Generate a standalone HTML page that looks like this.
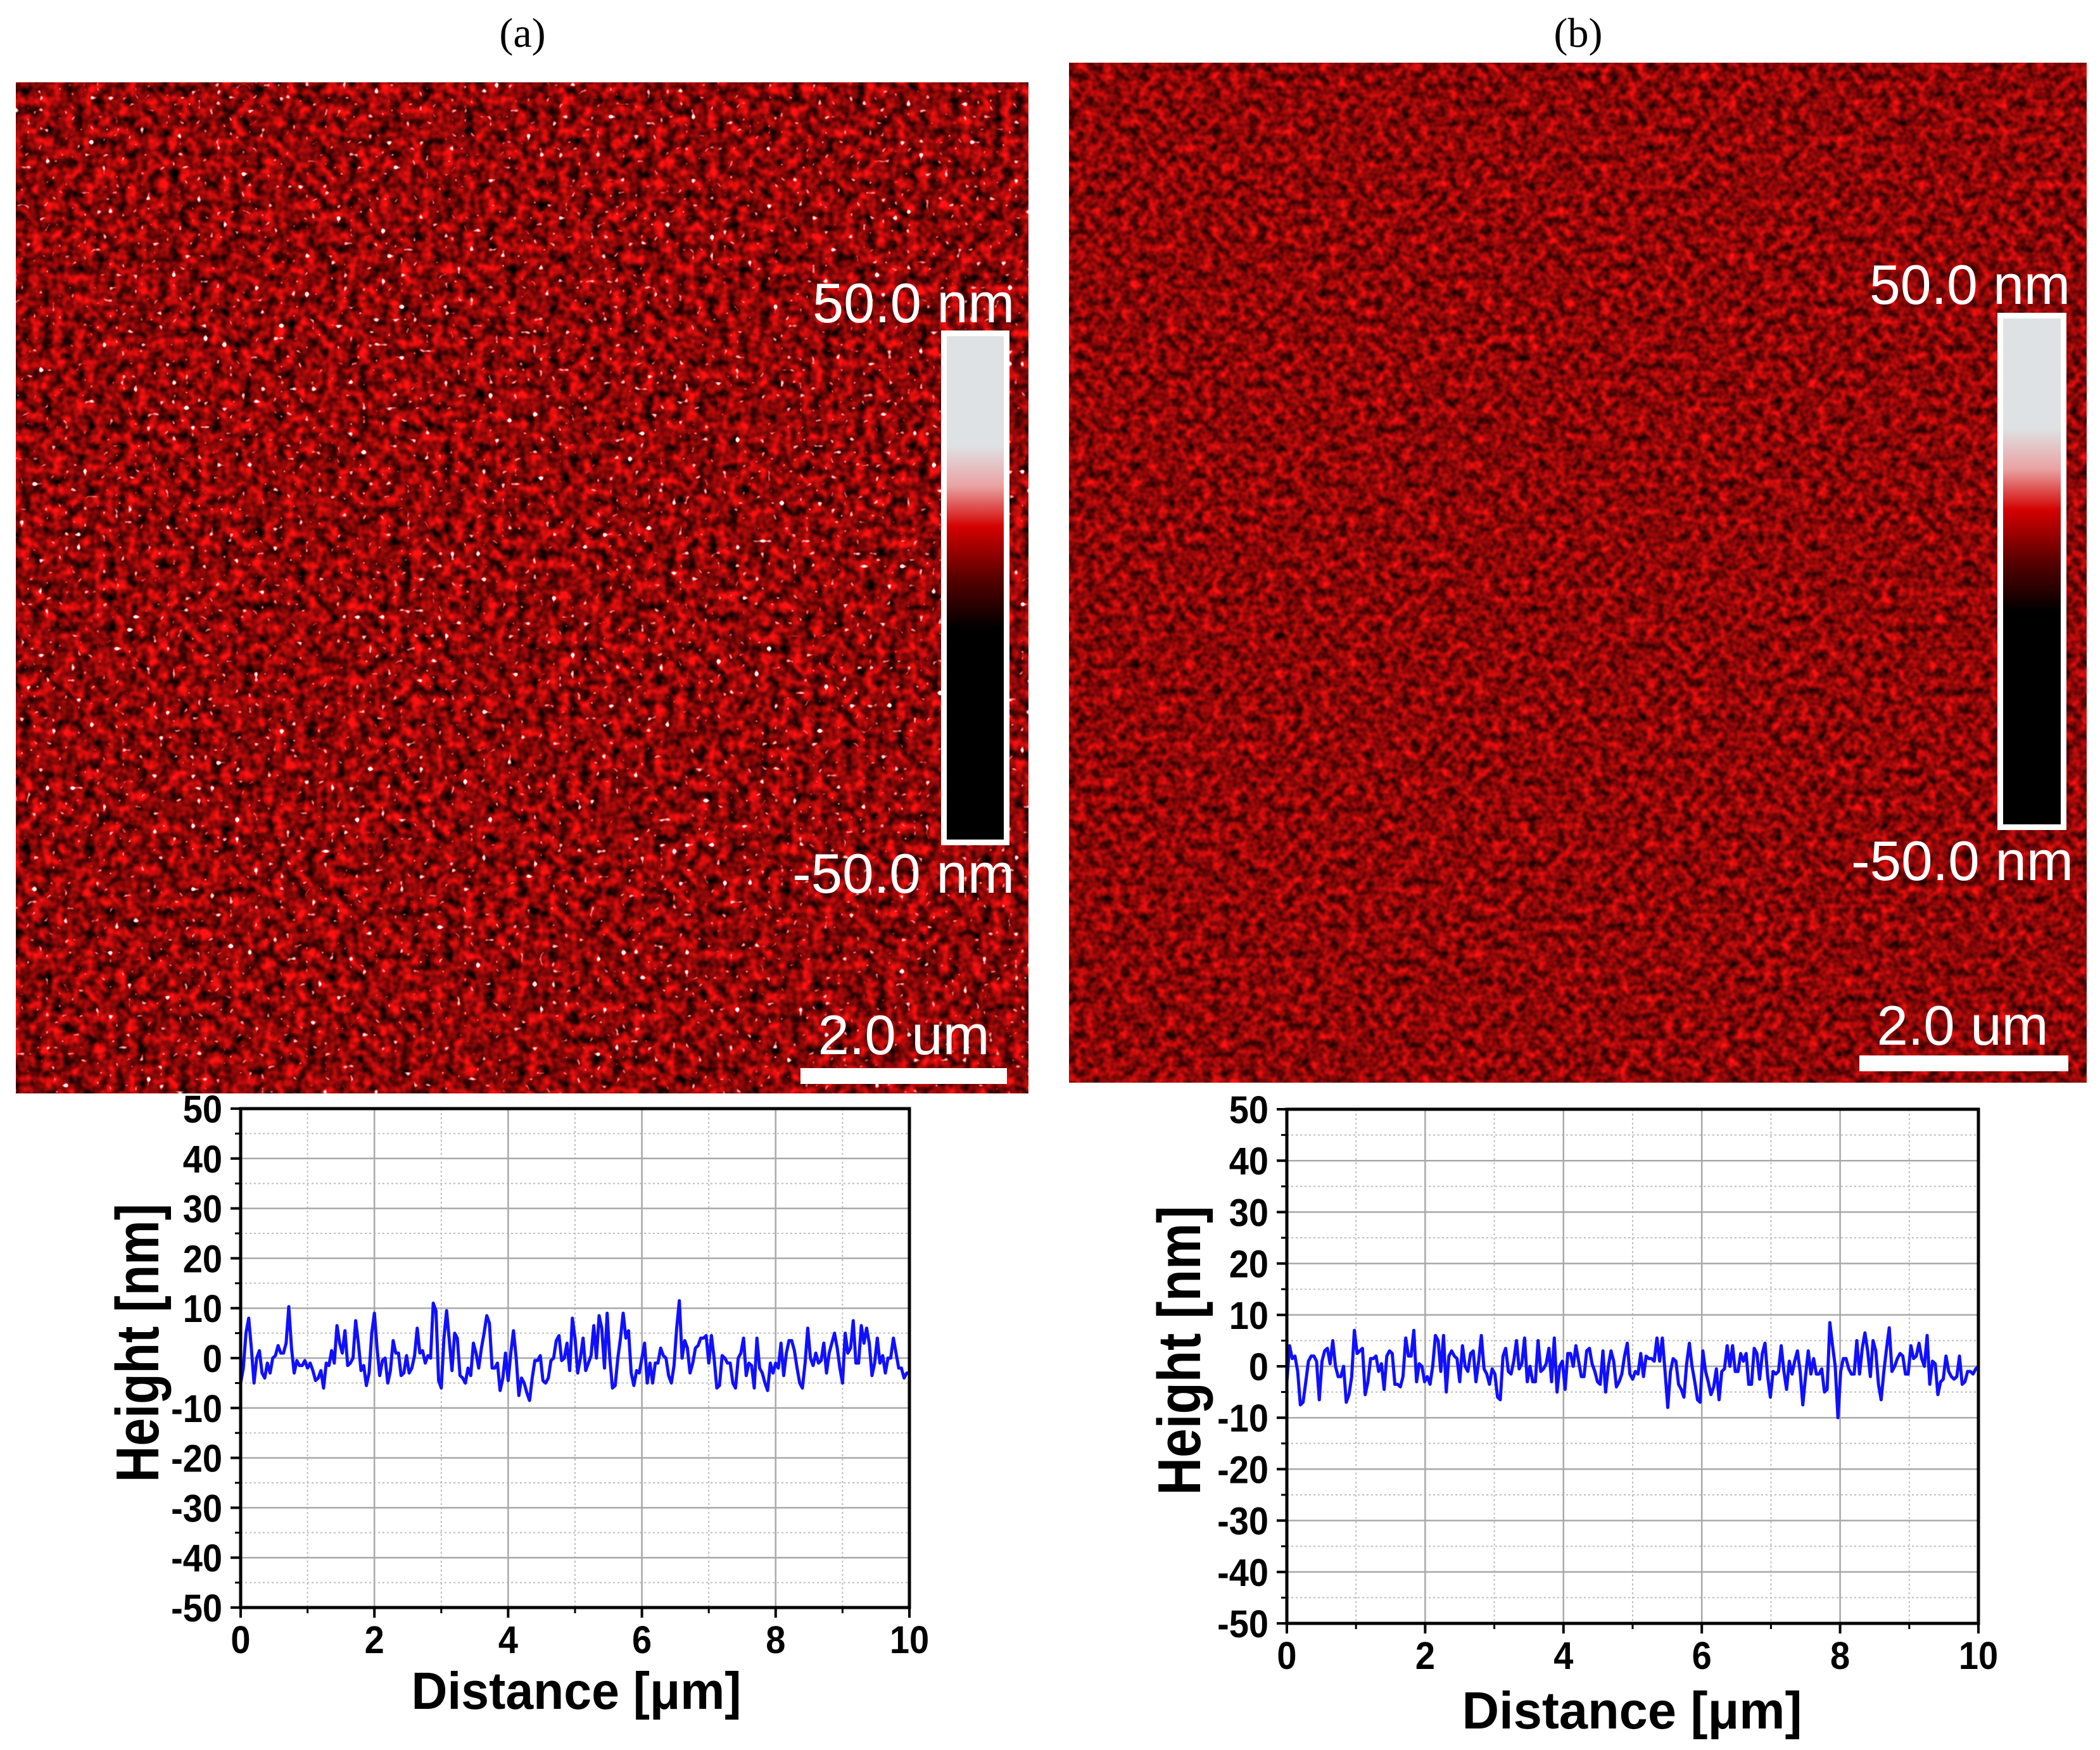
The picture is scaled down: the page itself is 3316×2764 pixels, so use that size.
<!DOCTYPE html>
<html><head><meta charset="utf-8"><style>
html,body{margin:0;padding:0;background:#fff;}
svg{display:block;}
text{font-family:"Liberation Sans",Arial,sans-serif;}
</style></head><body>
<svg id="fig" width="3316" height="2764" viewBox="0 0 3316 2764" xmlns="http://www.w3.org/2000/svg">
<defs>
<filter id="texA" x="0" y="0" width="100%" height="100%" filterUnits="objectBoundingBox" color-interpolation-filters="sRGB">
  <feTurbulence type="fractalNoise" baseFrequency="0.06" numOctaves="2" seed="3" result="n"/>
  <feColorMatrix in="n" type="matrix" values="1.6 0 0 0 -0.26  0.12 0 0 0 -0.03  0.12 0 0 0 -0.03  0 0 0 0 1" result="red"/>
  <feTurbulence type="fractalNoise" baseFrequency="0.1" numOctaves="1" seed="11" result="n2"/>
  <feColorMatrix in="n2" type="matrix" values="0 1 0 0 0  0 1 0 0 0  0 1 0 0 0  0 0 0 0 1" result="g2"/>
  <feComponentTransfer in="g2" result="spots">
    <feFuncR type="linear" slope="10" intercept="-6.6"/>
    <feFuncG type="linear" slope="10" intercept="-6.9"/>
    <feFuncB type="linear" slope="10" intercept="-6.9"/>
  </feComponentTransfer>
  <feBlend in="red" in2="spots" mode="screen"/>
</filter>
<filter id="texB" x="0" y="0" width="100%" height="100%" filterUnits="objectBoundingBox" color-interpolation-filters="sRGB">
  <feTurbulence type="fractalNoise" baseFrequency="0.07" numOctaves="2" seed="7" result="n"/>
  <feColorMatrix in="n" type="matrix" values="1.3 0 0 0 -0.1  0.1 0 0 0 -0.02  0.1 0 0 0 -0.02  0 0 0 0 1"/>
</filter>
<linearGradient id="cbar" x1="0" y1="0" x2="0" y2="1">
  <stop offset="0" stop-color="#dfe2e5"/>
  <stop offset="0.22" stop-color="#dfe2e5"/>
  <stop offset="0.30" stop-color="#eaa2a2"/>
  <stop offset="0.38" stop-color="#d40000"/>
  <stop offset="0.48" stop-color="#5a0000"/>
  <stop offset="0.58" stop-color="#000000"/>
  <stop offset="1" stop-color="#000000"/>
</linearGradient>
</defs>

<text x="825" y="74" font-size="66" text-anchor="middle" style="font-family:'Liberation Serif',serif">(a)</text>
<text x="2492" y="74" font-size="66" text-anchor="middle" style="font-family:'Liberation Serif',serif">(b)</text>

<g>
  <rect x="25" y="130" width="1599" height="1597" fill="#8a0a0a"/>
  <rect x="25" y="130" width="1599" height="1597" filter="url(#texA)"/>
  <rect x="1490.5" y="526.5" width="99" height="804" fill="url(#cbar)" stroke="#fff" stroke-width="9"/>
  <text x="1602" y="509" font-size="88" fill="#fff" text-anchor="end" textLength="319" lengthAdjust="spacingAndGlyphs">50.0 nm</text>
  <text x="1602" y="1410" font-size="88" fill="#fff" text-anchor="end" textLength="351" lengthAdjust="spacingAndGlyphs">-50.0 nm</text>
  <text x="1427" y="1665" font-size="88" fill="#fff" text-anchor="middle" textLength="271" lengthAdjust="spacingAndGlyphs">2.0 um</text>
  <rect x="1264" y="1687" width="326" height="25" fill="#fff"/>
</g>

<g>
  <rect x="1688" y="99" width="1607" height="1611" fill="#8c0b0b"/>
  <rect x="1688" y="99" width="1607" height="1611" filter="url(#texB)"/>
  <rect x="3158.5" y="498.5" width="100" height="808" fill="url(#cbar)" stroke="#fff" stroke-width="9"/>
  <text x="3269" y="480" font-size="88" fill="#fff" text-anchor="end" textLength="317" lengthAdjust="spacingAndGlyphs">50.0 nm</text>
  <text x="3274" y="1390" font-size="88" fill="#fff" text-anchor="end" textLength="351" lengthAdjust="spacingAndGlyphs">-50.0 nm</text>
  <text x="3099" y="1650" font-size="88" fill="#fff" text-anchor="middle" textLength="271" lengthAdjust="spacingAndGlyphs">2.0 um</text>
  <rect x="2936" y="1667" width="330" height="25" fill="#fff"/>
</g>

<g id="plotA"></g>
<g id="plotB"></g>
</svg>
<script>
const xTickLabels = ["0","2","4","6","8","10"];
const yTickLabels = ["50","40","30","20","10","0","-10","-20","-30","-40","-50"];
const xTicks = [0,2,4,6,8,10];
const yTicks = [50,40,30,20,10,0,-10,-20,-30,-40,-50];
const profileRangeUm = 10;
const heightsA = [-5,-2,5,8,2,-5,0,1.5,-3,-4,-1,-3,0,0.5,2.5,1,1,3,10.3,2,-3,-0.5,-1.5,-1.5,-0.5,-2,-1,-2.5,-4.5,-4,-2.5,-6,-1,-1.5,1.5,-1,6.5,3,1,5.5,-1.5,-1,0,7.5,3,-2.5,-1.5,-5.5,-3,5,9,2,-3.5,-0.5,0,-5,-2.5,3.5,1,1,-3.5,-3,0.5,-3,-2,0.5,6,1,1.5,-1,0.5,0,11,9.5,-4.5,-6,4,9.5,3.5,-2.5,5,4,-3.5,-4,-5,-2,-3.5,3,1,-2,2,5,8.5,7,-2,-2,-1,-6.5,-4,1,-4.5,1,5.5,0,-7.5,-4,-5,-7,-8.5,-4,-0.5,-0.5,0.5,-4.5,-5,-4,-0.5,0,3.5,4.5,-0.5,0,3,-2.5,8,4,-3,0,4,-2.5,-1,0.5,6.5,0,8.5,6,-2,9,0,-6,-5.5,0,4,9,4,5.5,-3,-5.5,-2.5,-3,0,3,-5,-1,-5,-1,-1,2,0.5,0,-3.5,-5,-1.5,6,11.5,0,3.5,2,-3,-1,2,2.5,4,4,4.5,-1,4.5,0,-6,-5.5,0.5,0,-1,-1,-5,-6,0,1,4,-3.5,-1,-1.5,-6,4,-2,-3,-5,-6.5,-1,-3,-1,-2,3,-3.5,1,3.5,3.5,1.5,-2,-5,-6,-1,6,0,-1.5,1,-1,-0.5,3,-3,1,3,5,2,-2,-5,5,1,2,7.5,-1,-1,6.5,3,6,3,-3.5,-1,4,-1,0.5,-3,0,0,4,1,-2,-2,-4,-3,-3];
const heightsB = [-3,4,1.5,2,-1,-7.5,-7,-3,1,2,2,1,-6.5,1,3,3.5,0.5,5,0,-2,-2,0,-7,-5.5,-2,7,2.5,3,3.5,-5.5,-3,1.5,1.5,2,-1,0.5,-4.5,2,3,2.5,-3.5,-3.5,-4,-2,5.5,2,2,7,-3,0.5,0,-3,-2,-3.5,0,6,5,-1,6,-5,2,3,2,1.5,-3,4,0,-1,2.5,3,-3,1,6,-0.5,-1.5,-3.5,-0.5,-1.5,-6,-6.5,2,3.5,-1,-1.5,1,5,-0.5,0.5,5.5,-3,0,-3,-3,5,-1,-0.5,0.5,3.5,-3,5.5,-5,0,1,-4.5,2.5,2.5,0,4,1,-2,-2,3,3.5,0.5,-1,-3,-3.5,3,-5,0,3,1,-4,-3,-1.5,2,4.5,-1.5,-2.5,-1,-1.5,2.5,-2,2,1.5,1.5,1,5.5,1,5.5,-1,-8,-1,1.5,1,-3.5,-4.5,-6,0.5,4.5,0,-3,-6.5,-7,3,-1,-3,-5.5,-4,-0.5,-6.5,-1,-0.5,4,0,4,-1,-1,2.5,1,2.5,-3.5,-3.5,3.5,2.5,-2.5,2.5,4.5,-2,-6,-1,-1.5,-1,4,-1,-4.5,1,-1.5,1,3,-1,-7.5,-2,3,-1.5,1.5,-1.5,-1.5,-0.5,-5,-4.5,8.5,4,0,-10,-1,1.5,1.5,-0.5,-1.5,-1.5,5,-1.5,3.5,6.5,3,-2,5,3,-3.5,-6.5,-1,3.5,7.5,-1,0,1.5,2.5,2,-1.5,-1.5,4,1.5,2,4.5,1.5,0,6,-3.5,1,0.5,-5.5,-3,-2.5,2,-1,-2,-2.5,-2,2,-3.5,-3,-1,-1,-1.5,-0.5,0];

const NS = "http://www.w3.org/2000/svg";
function mk(parent, tag, attrs, txt){
  const e = document.createElementNS(NS, tag);
  for (const k in attrs) e.setAttribute(k, attrs[k]);
  if (txt !== undefined) e.textContent = txt;
  parent.appendChild(e);
  return e;
}
function drawPlot(g, cfg, heights){
  const sx = v => cfg.L + (v/profileRangeUm)*(cfg.R-cfg.L);
  const sy = v => cfg.B - ((v+50)/100)*(cfg.B-cfg.T);
  for (let v=1; v<10; v+=2){
    const l = mk(g,'line',{x1:sx(v),x2:sx(v),y1:cfg.T,y2:cfg.B,stroke:'#bdbdbd','stroke-width':2,'stroke-dasharray':'3 4'});
    
    
  }
  for (let v=-45; v<50; v+=10){
    const l = mk(g,'line',{x1:cfg.L,x2:cfg.R,y1:sy(v),y2:sy(v),stroke:'#bdbdbd','stroke-width':2,'stroke-dasharray':'3 4'});
    
    
  }
  xTicks.forEach((v,i)=>{
    const l = mk(g,'line',{x1:sx(v),x2:sx(v),y1:cfg.T,y2:cfg.B,stroke:'#a8a8a8','stroke-width':2.5});
    
    
    mk(g,'line',{x1:sx(v),x2:sx(v),y1:cfg.B,y2:cfg.B+16,stroke:'#000','stroke-width':4});
    const t = mk(g,'text',{x:0,y:0,'font-size':56,'font-weight':'bold','text-anchor':'middle',transform:`translate(${sx(v)},${cfg.xLabelY}) scale(1,1.1)`}, xTickLabels[i]);
    
    
  });
  for (let v=1; v<10; v+=2) mk(g,'line',{x1:sx(v),x2:sx(v),y1:cfg.B,y2:cfg.B+9,stroke:'#000','stroke-width':3});
  yTicks.forEach((v,i)=>{
    const l = mk(g,'line',{x1:cfg.L,x2:cfg.R,y1:sy(v),y2:sy(v),stroke:'#a8a8a8','stroke-width':2.5});
    
    
    mk(g,'line',{x1:cfg.L-16,x2:cfg.L,y1:sy(v),y2:sy(v),stroke:'#000','stroke-width':4});
    const t = mk(g,'text',{x:0,y:0,'font-size':56,'font-weight':'bold','text-anchor':'end',transform:`translate(${cfg.yLabelX},${sy(v)+22}) scale(1,1.1)`}, yTickLabels[i]);
    
    
  });
  for (let v=-45; v<50; v+=10) mk(g,'line',{x1:cfg.L-9,x2:cfg.L,y1:sy(v),y2:sy(v),stroke:'#000','stroke-width':3});
  const n = heights.length;
  const pts = heights.map((h,i)=> sx(i*profileRangeUm/(n-1)).toFixed(1)+','+sy(h).toFixed(1)).join(' ');
  const pl = mk(g,'polyline',{points:pts,fill:'none',stroke:'#1010ff','stroke-width':5,'stroke-linejoin':'round'});
  
  
  const fr = mk(g,'rect',{x:cfg.L,y:cfg.T,width:cfg.R-cfg.L,height:cfg.B-cfg.T,fill:'none',stroke:'#000','stroke-width':5});
  
  
  const yt = mk(g,'text',{x:0,y:0,'font-size':96,'font-weight':'bold','text-anchor':'middle',transform:`translate(${cfg.yTitleX},${cfg.yTitleY}) rotate(-90)`,textLength:cfg.yTitleLen,lengthAdjust:'spacingAndGlyphs'},'Height [nm]');
  
  
  const xt = mk(g,'text',{x:0,y:0,'font-size':72,'font-weight':'bold','text-anchor':'middle',transform:`translate(${cfg.xTitleX},${cfg.xTitleY}) scale(1,1.15)`,textLength:cfg.xTitleLen,lengthAdjust:'spacingAndGlyphs'},'Distance [\u03bcm]');
  
  
}
drawPlot(document.getElementById('plotA'),
  {L:380,R:1436,T:1751,B:2539,xLabelY:2611,yLabelX:351,yTitleX:250,yTitleY:2121,yTitleLen:440,xTitleX:910,xTitleY:2699,xTitleLen:521},
  heightsA);
drawPlot(document.getElementById('plotB'),
  {L:2032,R:3124,T:1752,B:2564,xLabelY:2636,yLabelX:2003,yTitleX:1895,yTitleY:2133,yTitleLen:457,xTitleX:2577,xTitleY:2730,xTitleLen:537},
  heightsB);
</script>
</body></html>
